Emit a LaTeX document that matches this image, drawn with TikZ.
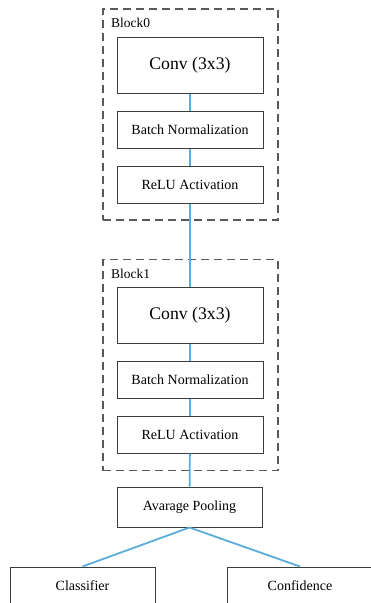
\documentclass[tikz,border=0pt]{standalone}
\usepackage{fontspec}
\setmainfont{Liberation Serif}
\definecolor{linkblue}{RGB}{90,172,218}
\definecolor{boxgray}{RGB}{60,60,60}
\begin{document}
\begin{tikzpicture}
	[	x=1pt,y=-1pt,
	layer/.style={rectangle,draw=boxgray,line width=1pt,minimum width=146pt,minimum height=37pt,inner sep=0pt,font=\fontsize{14}{16}\selectfont},
	convbox/.style={layer,minimum height=56pt,font=\fontsize{17.7}{20}\selectfont},
	block/.style={rectangle,draw=boxgray!85,line width=1.4pt,dash pattern=on 8pt off 5pt,minimum width=175pt,minimum height=211pt,inner sep=0pt},
	tag/.style={anchor=north west,inner sep=0pt,font=\fontsize{13.5}{16}\selectfont},
	link/.style={draw=linkblue,line width=1.8pt}
	]
	\useasboundingbox (0,0) rectangle (370,603);
	% first block
	\node[block] (blk0) at (190.5,114.5){};
	\node[tag] (blk0tag) at (111,18){Block0};
	\node[convbox] (conv0) at (190,65){Conv (3x3)};
	\node[layer] (bn0) at (190,129.5){Batch Normalization};
	\node[layer] (relu0) at (190,184.5){ReLU Activation};
	% second block
	\node[block] (blk1) at (190.5,365){};
	\node[tag] (blk1tag) at (111,269){Block1};
	\node[convbox] (conv1) at (190,315.5){Conv (3x3)};
	\node[layer] (bn1) at (190,379.5){Batch Normalization};
	\node[layer] (relu1) at (190,434.5){ReLU Activation};
	% head
	\node[layer,minimum height=40pt,minimum width=145pt] (pool) at (189.5,507){Avarage Pooling};
	\node[layer,minimum width=145pt] (cls) at (82.5,585.5){Classifier};
	\node[layer] (conf) at (300,585.5){Confidence};
\draw[link] (conv0) -- (bn0);
\draw[link] (bn0) -- (relu0);
\draw[link] (relu0) -- (conv1);
\draw[link] (conv1) -- (bn1);
\draw[link] (bn1) -- (relu1);
\draw[link] (relu1) -- (pool);
\draw[link] (pool.south) -- (cls.north);
\draw[link] (pool.south) -- (conf.north);
\end{tikzpicture}
\end{document}
